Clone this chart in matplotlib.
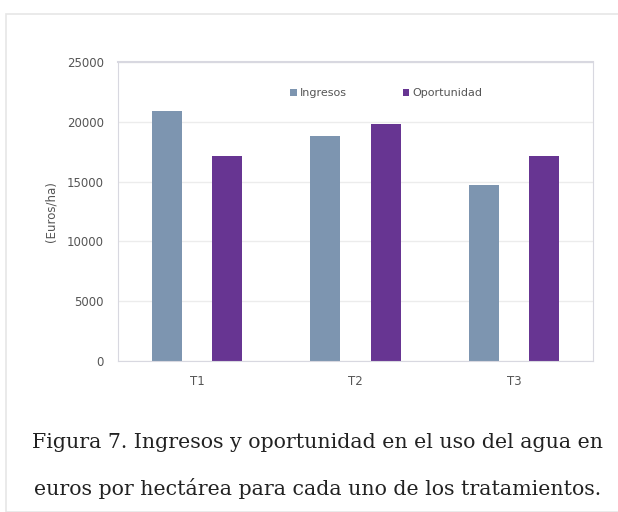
import numpy as np
import matplotlib
matplotlib.use('Agg')
import matplotlib.pyplot as plt
from matplotlib.patches import Rectangle

categories = ['T1', 'T2', 'T3']
ingresos = [20900, 18800, 14700]
oportunidad = [17100, 19800, 17100]
series_names = ['Ingresos', 'Oportunidad']
yticks = [0, 5000, 10000, 15000, 20000, 25000]
caption = ("Figura 7. Ingresos y oportunidad en el uso del agua en\n"
           "euros por hectárea para cada uno de los tratamientos.")

W, H = 618, 512
fig = plt.figure(figsize=(W/100, H/100), dpi=100)

# card border
fig.patches.append(Rectangle((6/W, 0), 1.0, 1 - 14/H, transform=fig.transFigure,
                             fill=False, edgecolor='#e6e6e6', linewidth=1.2))

ax = fig.add_axes([118/W, 1 - 361/H, (593-118)/W, (361-62)/H])

x = np.arange(len(categories))
bw = 0.19
ax.bar(x - bw, ingresos, bw, color='#7d95b0', label=series_names[0])
ax.bar(x + bw, oportunidad, bw, color='#673592', label=series_names[1])

ax.set_xlim(-0.5, 2.5)
ax.set_ylim(0, 25000)
ax.set_yticks(yticks)
ax.set_xticks(x)
ax.set_xticklabels(categories)
ax.tick_params(axis='both', length=0, labelsize=8.5, colors='#555555', pad=10)
ax.grid(axis='y', color='#ececec', linewidth=1)
ax.set_axisbelow(True)
for s in ['top', 'right', 'left', 'bottom']:
    ax.spines[s].set_color('#d8d8e0')
ax.spines['top'].set_linewidth(1.5)
ax.set_ylabel('(Euros/ha)', fontsize=8.5, color='#555555', labelpad=7)

ax.legend(loc='upper center', bbox_to_anchor=(0.565, 0.945), ncol=2, frameon=False,
          fontsize=8, handlelength=0.6, handleheight=0.6, columnspacing=5,
          handletextpad=0.3, labelcolor='#555555')

fig.text(318/W, 1 - 466/H, caption, ha='center', va='center', fontsize=14.8,
         family='DejaVu Serif', color='#222222', linespacing=2.55)

fig.savefig('out.png', dpi=100)
